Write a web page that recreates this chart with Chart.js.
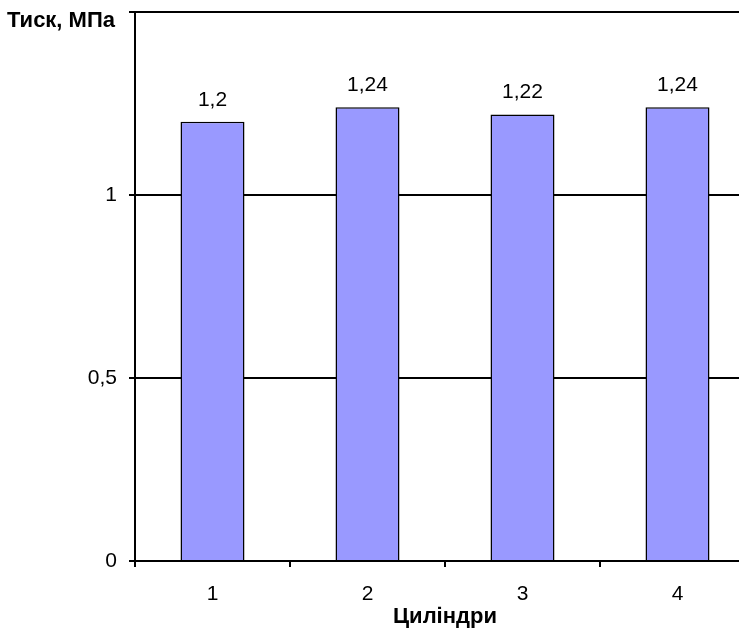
<!DOCTYPE html>
<html>
<head>
<meta charset="utf-8">
<script src="https://cdn.jsdelivr.net/npm/chart.js@4"></script>
<style>
  html, body { margin: 0; padding: 0; background: #fff; overflow: hidden; }
  #wrap { width: 757px; height: 630px; position: relative; }
</style>
</head>
<body>
<div id="wrap"><canvas id="chart"></canvas></div>
<script>
const cylinders = ['1', '2', '3', '4'];
const pressure = [1.2, 1.24, 1.22, 1.24];
const yTicks = [0, 0.5, 1, 1.5];

const fmt = v => String(v).replace('.', ',');
const FONT = '"Liberation Sans", Arial, sans-serif';

// value labels above the bars
const barLabels = {
    id: 'barLabels',
    afterDatasetsDraw(chart) {
        const ctx = chart.ctx;
        const meta = chart.getDatasetMeta(0);
        ctx.save();
        ctx.font = '21px ' + FONT;
        ctx.fillStyle = '#000';
        ctx.textAlign = 'center';
        ctx.textBaseline = 'alphabetic';
        meta.data.forEach((bar, i) => {
            ctx.fillText(fmt(pressure[i]), bar.x, bar.y - 16);
        });
        ctx.restore();
    }
};

// y axis caption in the top-left corner
const yCaption = {
    id: 'yCaption',
    afterDraw(chart) {
        const ctx = chart.ctx;
        ctx.save();
        ctx.font = 'bold 22px ' + FONT;
        ctx.fillStyle = '#000';
        ctx.textAlign = 'left';
        ctx.textBaseline = 'middle';
        ctx.fillText('Тиск, МПа', 7, 21);
        ctx.restore();
    }
};

new Chart(document.getElementById('chart'), {
    type: 'bar',
    data: {
        labels: cylinders,
        datasets: [{
            data: pressure,
            backgroundColor: '#9999ff',
            borderColor: '#000',
            borderWidth: 1.5,
            barPercentage: 0.413,
            categoryPercentage: 1
        }]
    },
    options: {
        responsive: true,
        maintainAspectRatio: false,
        animation: false,
        layout: { padding: { top: 12, right: 2, bottom: 0, left: 0 } },
        plugins: {
            legend: { display: false },
            tooltip: { enabled: false }
        },
        scales: {
            x: {
                afterFit(scale) { scale.height = 69; },
                border: { color: '#000', width: 2 },
                grid: { drawOnChartArea: false, drawTicks: true, tickLength: 6, color: '#000', lineWidth: 2 },
                ticks: {
                    color: '#000',
                    padding: 15,
                    font: { family: FONT, size: 21 }
                },
                title: {
                    display: true,
                    text: 'Циліндри',
                    color: '#000',
                    padding: { top: 0, bottom: 0 },
                    font: { family: FONT, size: 22, weight: 'bold' }
                }
            },
            y: {
                min: 0,
                max: 1.5,
                afterFit(scale) {
                    scale.width = 135;
                    scale.paddingTop = 0;
                },
                afterBuildTicks(scale) { scale.ticks = yTicks.map(v => ({ value: v })); },
                border: { color: '#000', width: 2 },
                grid: { color: '#000', lineWidth: 2, tickLength: 6 },
                ticks: {
                    color: '#000',
                    padding: 12,
                    font: { family: FONT, size: 21 },
                    callback: v => v === 1.5 ? '' : fmt(v)
                }
            }
        }
    },
    plugins: [barLabels, yCaption]
});
</script>
</body>
</html>
